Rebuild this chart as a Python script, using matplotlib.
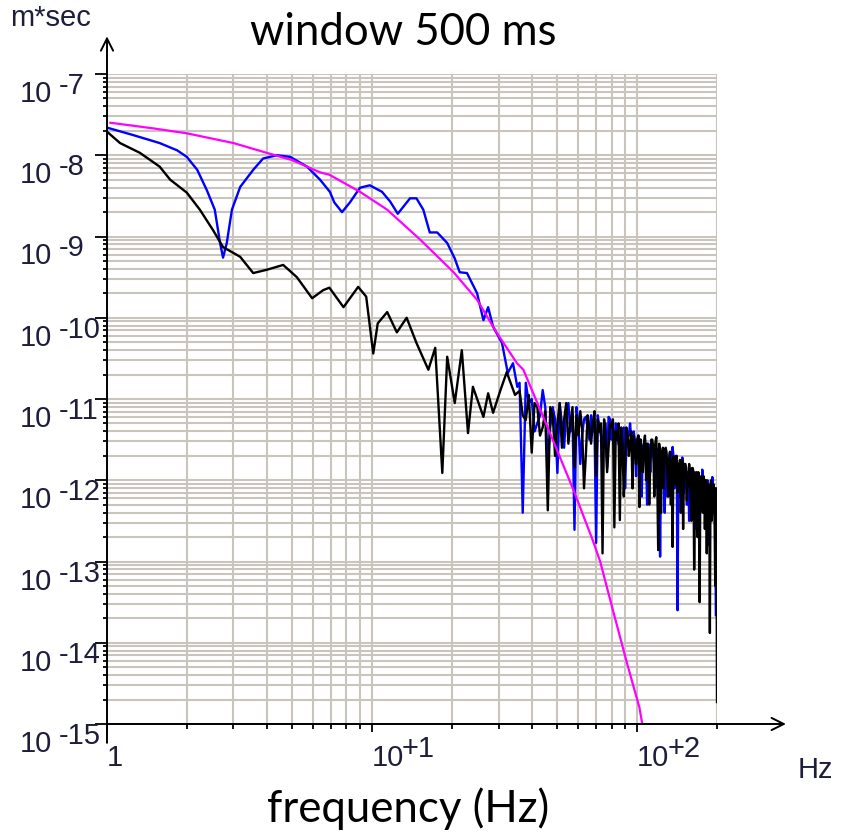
import matplotlib.pyplot as plt
import numpy as np
from matplotlib.ticker import LogLocator, NullFormatter

# --- data (frequency in Hz, log10 of amplitude in m*sec) ---

# magenta: smooth model spectrum
fit_f = [1.03, 1.5, 2.0, 3.0, 4.0, 5.0, 6.36, 6.9, 9.0, 11.4, 15.2, 20.3, 24.9,
         29.6, 35.2, 37.2, 45.8, 57.5, 68.0, 72.5, 81.0, 91.5, 102.0, 104.5]
fit_log = [-7.60, -7.67, -7.73, -7.85, -7.97, -8.06, -8.21, -8.24, -8.45, -8.67, -9.04, -9.44, -9.78,
           -10.19, -10.56, -10.64, -11.34, -12.12, -12.74, -13.00, -13.60, -14.25, -14.80, -15.0]

# blue spectrum, smooth low-frequency part
blue_lf_f = [1.0, 1.25, 1.58, 1.84, 2.0, 2.19, 2.38, 2.55, 2.67, 2.74, 2.83, 2.96, 3.18, 3.56,
             3.88, 4.38, 4.91, 5.68, 6.36, 6.93, 7.2, 7.7, 8.25, 9.0, 9.8, 10.9, 11.7, 12.5,
             13.9, 14.7, 15.6, 16.5, 17.6, 19.2, 20.5, 21.4, 22.8, 24.9, 26.3, 27.4, 28.6,
             30.9, 32.5, 34.0, 35.3]
blue_lf_log = [-7.66, -7.75, -7.85, -7.94, -8.02, -8.18, -8.43, -8.67, -9.08, -9.26, -9.08, -8.67, -8.39, -8.18,
               -8.04, -8.00, -8.02, -8.14, -8.30, -8.45, -8.58, -8.70, -8.58, -8.40, -8.37, -8.45, -8.57, -8.72,
               -8.53, -8.53, -8.67, -8.95, -8.95, -9.08, -9.27, -9.44, -9.45, -9.70, -10.03, -9.87, -10.11,
               -10.31, -10.68, -10.56, -10.85]
# blue spectrum, noisy part, one value per Hz from 36 to 198
blue_hf_f = list(range(36, 199))
blue_hf_log = [
    -10.80, -12.40, -10.80, -11.05, -11.00, -11.40, -11.30, -11.20, -10.89, -11.10,  # 36
    -11.75, -11.35, -11.10, -11.25, -11.91, -11.05, -11.30, -11.60, -11.15, -11.05,  # 46
    -11.40, -11.20, -12.61, -11.10, -11.30, -11.80, -11.45, -11.25, -11.22, -11.35,  # 56
    -11.50, -11.20, -11.40, -11.30, -12.77, -11.20, -11.35, -11.45, -11.60, -11.30,  # 66
    -11.30, -11.85, -11.22, -11.25, -11.50, -11.35, -11.70, -11.30, -11.40, -11.55,  # 76
    -11.60, -11.40, -11.45, -11.35, -12.10, -11.60, -11.40, -11.45, -11.30, -11.50,  # 86
    -11.70, -11.40, -11.50, -11.95, -11.55, -11.45, -11.60, -11.50, -12.20, -11.60,  # 96
    -11.55, -11.50, -11.70, -12.30, -11.55, -11.60, -11.90, -11.55, -11.65, -11.70,  # 106
    -11.80, -12.10, -11.60, -11.65, -12.00, -11.60, -12.94, -11.75, -11.70, -11.70,  # 116
    -11.85, -12.40, -11.65, -11.70, -12.20, -11.80, -11.75, -11.65, -11.90, -12.00,  # 126
    -11.59, -11.70, -12.10, -11.90, -11.80, -11.75, -13.60, -11.80, -11.85, -12.20,  # 136
    -12.00, -11.80, -11.72, -11.95, -12.15, -11.80, -11.85, -12.00, -12.30, -11.90,  # 146
    -11.90, -12.50, -12.05, -11.90, -11.95, -12.00, -12.40, -12.00, -11.90, -11.95,  # 156
    -12.10, -12.60, -12.00, -11.95, -12.50, -12.10, -11.95, -12.05, -12.20, -12.30,  # 166
    -11.87, -12.00, -12.30, -12.10, -12.05, -12.05, -12.60, -12.20, -12.00, -12.10,  # 176
    -12.25, -12.80, -12.10, -12.05, -12.35, -12.20, -11.96, -12.15, -12.40, -12.30,  # 186
    -12.15, -12.10, -13.66]                                                          # 196

# black spectrum, smooth low-frequency part
black_lf_f = [1.0, 1.12, 1.33, 1.58, 1.73, 2.0, 2.24, 2.51, 2.74, 3.18, 3.56, 4.0, 4.62, 5.2,
              5.94, 6.54, 6.9, 7.8, 8.86, 9.5, 10.1, 10.5, 11.4, 12.4, 13.5, 14.7, 16.3, 17.3,
              18.4, 19.2, 20.5, 21.8, 23.0, 24.0, 26.3, 27.4, 28.6, 30.5, 32.2, 34.6]
black_lf_log = [-7.71, -7.85, -7.97, -8.14, -8.30, -8.46, -8.67, -8.92, -9.13, -9.25, -9.45, -9.41, -9.35, -9.50,
                -9.76, -9.66, -9.63, -9.87, -9.62, -9.74, -10.44, -10.07, -9.93, -10.18, -10.00, -10.31, -10.64,
                -10.37, -11.91, -10.48, -11.05, -10.40, -11.42, -10.85, -11.22, -10.93, -11.17, -10.89, -10.67,
                -10.95]
# black spectrum, noisy part, one value per Hz from 36 to 200
black_hf_f = list(range(36, 201))
black_hf_log = [
    -10.90, -11.20, -11.26, -10.95, -11.66, -11.05, -11.10, -11.45, -11.35, -11.15,  # 36
    -12.37, -11.10, -11.20, -11.70, -11.30, -11.05, -11.60, -11.25, -11.05, -11.55,  # 46
    -11.30, -11.10, -11.84, -11.20, -11.45, -11.15, -11.38, -12.10, -11.70, -11.20,  # 56
    -11.35, -11.55, -11.30, -11.15, -11.95, -11.25, -11.40, -11.30, -12.90, -11.25,  # 66
    -11.45, -11.90, -11.60, -11.30, -11.35, -11.25, -12.58, -11.40, -11.50, -11.30,  # 76
    -12.49, -11.35, -11.55, -12.20, -11.75, -11.35, -11.45, -11.70, -11.54, -11.40,  # 86
    -12.10, -11.45, -11.60, -11.80, -11.50, -11.45, -12.33, -11.50, -11.65, -11.90,  # 96
    -11.55, -11.45, -12.00, -11.55, -11.60, -12.30, -11.80, -11.50, -11.50, -11.60,  # 106
    -12.20, -11.55, -11.47, -11.95, -12.86, -11.55, -11.65, -12.40, -11.70, -11.60,  # 116
    -12.10, -11.70, -11.60, -11.65, -11.90, -12.20, -11.75, -11.65, -12.30, -11.75,  # 126
    -12.82, -11.70, -11.80, -12.05, -11.70, -11.70, -12.15, -11.80, -11.85, -11.75,  # 136
    -12.40, -11.90, -11.75, -12.60, -12.00, -11.80, -11.80, -11.85, -12.25, -11.95,  # 146
    -12.08, -11.80, -11.90, -12.20, -12.50, -11.85, -11.85, -11.90, -13.10, -12.30,  # 156
    -11.95, -11.90, -12.20, -12.70, -11.90, -11.95, -13.50, -12.10, -12.05, -11.95,  # 166
    -12.30, -12.40, -11.95, -12.00, -12.60, -12.10, -12.00, -12.90, -12.20, -12.05,  # 176
    -12.45, -12.15, -13.88, -12.05, -12.00, -12.50, -12.30, -12.10, -12.05, -12.20,  # 186
    -12.60, -13.30, -12.10, -12.10, -14.73]                                          # 196

y_exponents = [-7, -8, -9, -10, -11, -12, -13, -14, -15]
x_labels = [(1, '1', ''), (10, '10', '+1'), (100, '10', '+2')]

# --- figure ---
W, H = 845, 836
fig = plt.figure(figsize=(W / 100, H / 100), dpi=100)
ax = fig.add_axes([107 / W, 112 / H, 610 / W, 650 / H])

blue_f = blue_lf_f + blue_hf_f
blue_v = 10 ** np.array(blue_lf_log + blue_hf_log)
black_f = black_lf_f + black_hf_f
black_v = 10 ** np.array(black_lf_log + black_hf_log)

ax.plot(blue_f, blue_v, color='#0000ff', lw=1.7)
ax.plot(black_f, black_v, color='black', lw=1.7)
ax.plot(fit_f, 10 ** np.array(fit_log), color='#ff00ff', lw=1.6)

ax.set_xscale('log')
ax.set_yscale('log')
ax.set_xlim(1, 200)
ax.set_ylim(1e-15, 1e-7)

ax.xaxis.set_major_locator(LogLocator(base=10, numticks=10))
ax.xaxis.set_minor_locator(LogLocator(base=10, subs=range(2, 10), numticks=20))
ax.yaxis.set_major_locator(LogLocator(base=10, numticks=20))
ax.yaxis.set_minor_locator(LogLocator(base=10, subs=range(2, 10), numticks=40))
ax.xaxis.set_minor_formatter(NullFormatter())
ax.yaxis.set_minor_formatter(NullFormatter())

ax.tick_params(labelleft=False, labelbottom=False)
ax.tick_params(axis='y', which='major', length=8.6, width=1.3)
ax.tick_params(axis='y', which='minor', length=3, width=1.3)
ax.tick_params(axis='x', which='major', length=5.8, width=1.3)
ax.tick_params(axis='x', which='minor', length=3.6, width=1.3)

ax.grid(which='both', color='#c9c5bd', lw=1.5)
ax.set_axisbelow(True)
for s in ax.spines.values():
    s.set_visible(False)

# axis lines with open arrow heads
arrow = dict(arrowstyle='->', lw=1.4, color='black', mutation_scale=22, shrinkA=0, shrinkB=0)
ax.annotate('', xy=(0, 1.058), xytext=(0, -0.029), xycoords='axes fraction', arrowprops=arrow)
ax.annotate('', xy=(1.113, 0), xytext=(0, 0), xycoords='axes fraction', arrowprops=arrow)

lab = dict(fontsize=21, family='Liberation Sans', color='#1e1e3c', textcoords='offset pixels')

# y tick labels "10 -n"
for e in y_exponents:
    ax.annotate('10', xy=(20 / W, 10.0 ** e), xycoords=('figure fraction', 'data'),
                xytext=(0, -28), ha='left', va='baseline', **lab)
    ax.annotate(str(e), xy=(59 / W, 10.0 ** e), xycoords=('figure fraction', 'data'),
                xytext=(0, -20), ha='left', va='baseline', **lab)

# x tick labels "1", "10+1", "10+2"
for v, base, sup in x_labels:
    ax.annotate(base, xy=(v, 0), xycoords=('data', 'axes fraction'),
                xytext=(0, -42), ha='left', va='baseline', **lab)
    if sup:
        ax.annotate(sup, xy=(v, 0), xycoords=('data', 'axes fraction'),
                    xytext=(30, -33), ha='left', va='baseline', **lab)

fig.text(10 / W, 1 - 26 / H, 'm*sec', fontsize=21, family='Liberation Sans', color='#1e1e3c',
         ha='left', va='baseline')
fig.text(798 / W, 1 - 778 / H, 'Hz', fontsize=21, family='Liberation Sans', color='#1e1e3c',
         ha='left', va='baseline')

fig.text(403 / W, 1 - 45 / H, 'window 500 ms', fontsize=31.5, family='Lato', ha='center', va='baseline')
fig.text(408 / W, 1 - 822 / H, 'frequency (Hz)', fontsize=31.5, family='Lato', ha='center', va='baseline')

fig.savefig('out.png', dpi=100)
